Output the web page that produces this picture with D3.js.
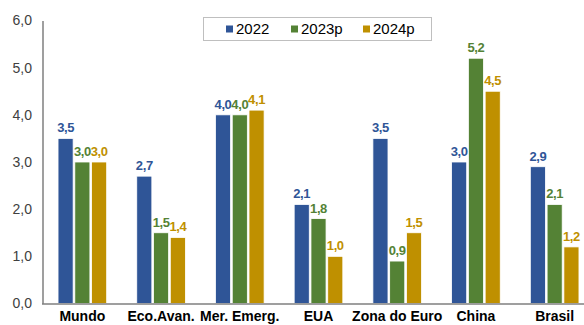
<!DOCTYPE html>
<html>
<head>
<meta charset="utf-8">
<script src="https://cdn.jsdelivr.net/npm/d3@7"></script>
<style>
  html, body { margin: 0; padding: 0; background: #fff; }
  svg { display: block; font-family: "Liberation Sans", Arial, sans-serif; }
</style>
</head>
<body>
<svg id="chart" width="584" height="325"></svg>
<script>
// Crescimento do PIB (%) por região
const categories = ["Mundo", "Eco.Avan.", "Mer. Emerg.", "EUA", "Zona do Euro", "China", "Brasil"];
const seriesNames = ["2022", "2023p", "2024p"];
const values2022  = [3.5, 2.7, 4.0, 2.1, 3.5, 3.0, 2.9];
const values2023p = [3.0, 1.5, 4.0, 1.8, 0.9, 5.2, 2.1];
const values2024p = [3.0, 1.4, 4.1, 1.0, 1.5, 4.5, 1.2];
const yTicks = [0, 1, 2, 3, 4, 5, 6];
const colors = ["#2F5597", "#548235", "#BF9000"];

const seriesValues = [values2022, values2023p, values2024p];
const rows = categories.map((c, i) => ({
  cat: c,
  vals: seriesNames.map((s, j) => ({ key: s, value: seriesValues[j][i], idx: j }))
}));

const svg = d3.select("#chart");
const fmt = v => d3.format(".1f")(v).replace(".", ",");

const x0 = d3.scaleBand().domain(categories).range([43, 594]).paddingInner(0).paddingOuter(0);
const x1 = d3.scaleBand().domain(seriesNames).range([0, 52]).padding(0.1);
const y = d3.scaleLinear().domain([0, 6]).range([303.5, 20.5]);

// Y tick labels
svg.append("g").selectAll("text").data(yTicks).join("text")
  .attr("x", 32).attr("y", d => y(d)).attr("dy", "0.35em")
  .attr("text-anchor", "end").attr("font-size", 14).attr("fill", "#404040")
  .text(fmt);

// Bars
const groups = svg.append("g").selectAll("g").data(rows).join("g")
  .attr("transform", d => `translate(${x0(d.cat) + (x0.bandwidth() - 52) / 2},0)`);

groups.selectAll("rect").data(d => d.vals).join("rect")
  .attr("x", d => x1(d.key))
  .attr("y", d => y(d.value))
  .attr("width", x1.bandwidth())
  .attr("height", d => y(0) - y(d.value))
  .attr("fill", d => colors[d.idx])
  .attr("stroke", "#ffffff").attr("stroke-width", 0.8);

groups.selectAll("text").data(d => d.vals).join("text")
  .attr("x", d => x1(d.key) + x1.bandwidth() / 2)
  .attr("y", d => y(d.value) - 6)
  .attr("text-anchor", "middle").attr("font-size", 13).attr("font-weight", "bold")
  .attr("letter-spacing", -0.4)
  .attr("fill", d => colors[d.idx])
  .text(d => fmt(d.value));

// Axes lines
svg.append("line").attr("x1", 43).attr("x2", 43).attr("y1", 21).attr("y2", 304)
  .attr("stroke", "#7f7f7f").attr("stroke-width", 1.5);
svg.append("line").attr("x1", 42).attr("x2", 584).attr("y1", 304).attr("y2", 304)
  .attr("stroke", "#7f7f7f").attr("stroke-width", 1.5);

// Category labels
svg.append("g").selectAll("text").data(categories).join("text")
  .attr("x", d => x0(d) + x0.bandwidth() / 2).attr("y", 321)
  .attr("text-anchor", "middle").attr("font-size", 14).attr("font-weight", "bold")
  .attr("fill", "#000")
  .text(d => d);

// Legend
const legend = svg.append("g");
legend.append("rect").attr("x", 203.5).attr("y", 17.5).attr("width", 228).attr("height", 23)
  .attr("fill", "#fff").attr("stroke", "#bfbfbf").attr("stroke-width", 1);
const legendX = [226, 291, 363];
const items = legend.selectAll("g").data(seriesNames).join("g")
  .attr("transform", (d, i) => `translate(${legendX[i]},29)`);
items.append("rect").attr("x", 0).attr("y", -3.5).attr("width", 7).attr("height", 7)
  .attr("fill", (d, i) => colors[i]);
items.append("text").attr("x", 10).attr("y", 0).attr("dy", "0.35em")
  .attr("font-size", 15).attr("fill", "#000").text(d => d);
</script>
</body>
</html>
